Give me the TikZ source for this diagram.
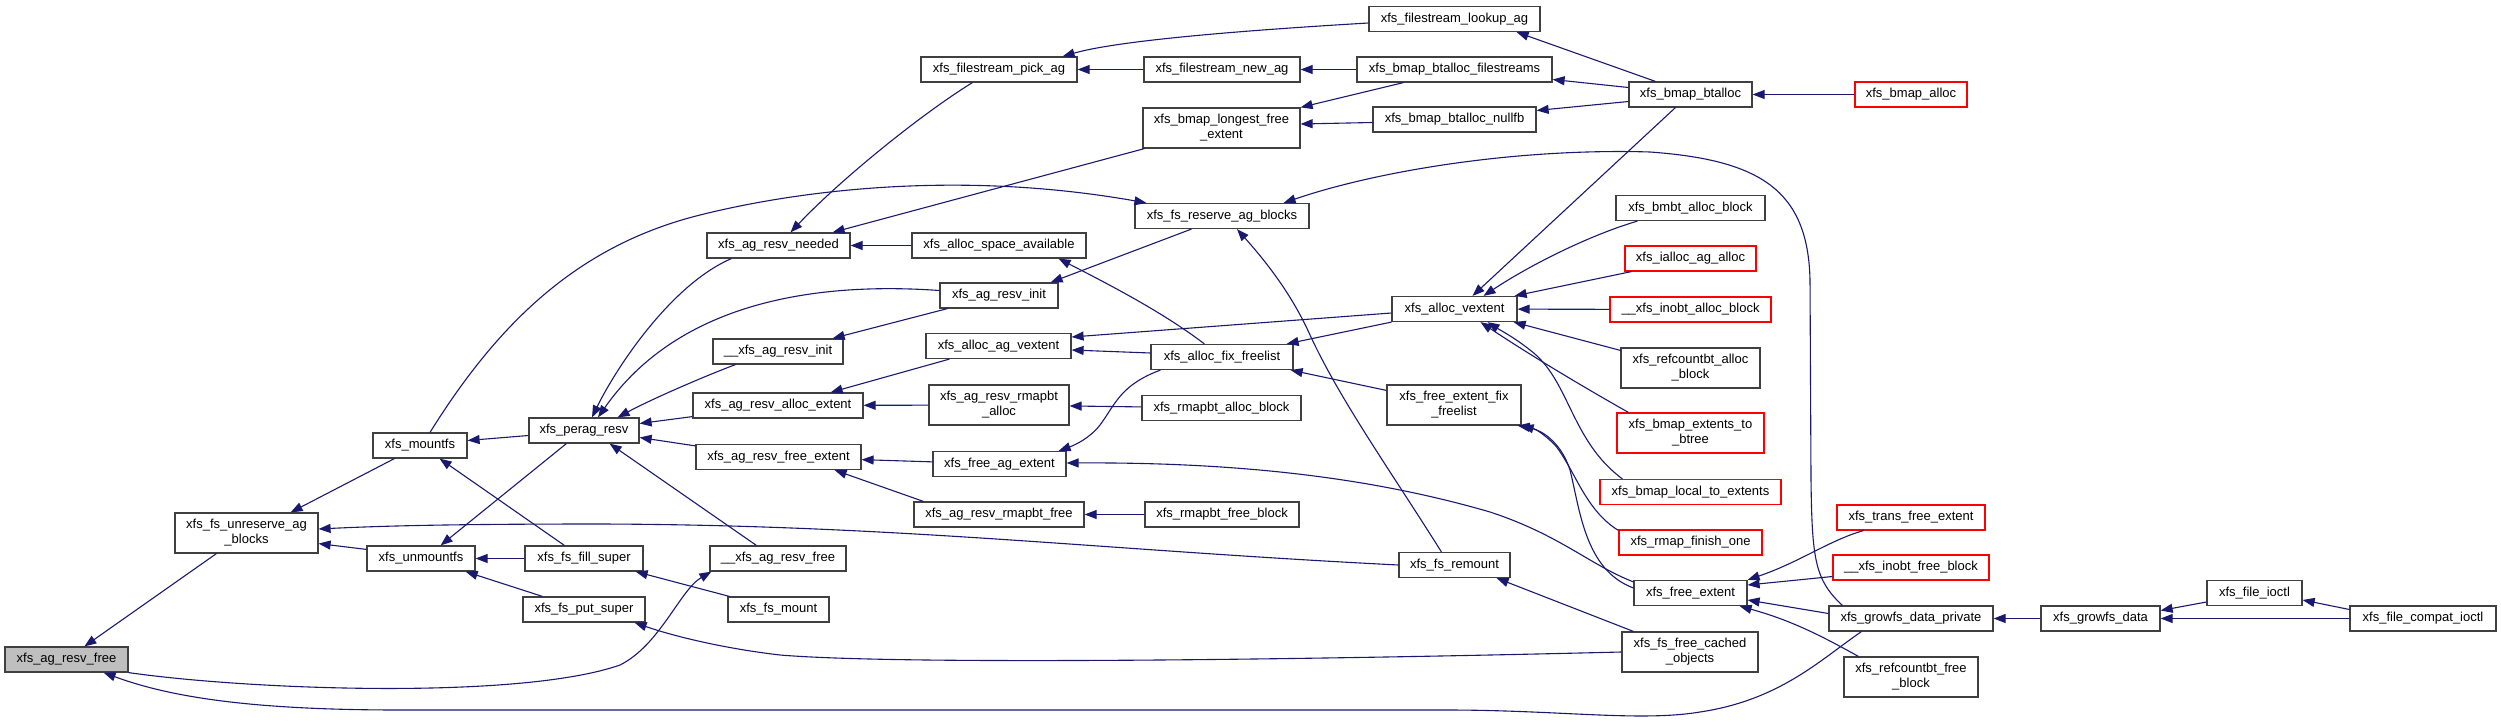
\documentclass[tikz,border=0pt]{standalone}
\usepackage{fontspec}
\setmainfont{Liberation Sans}
\usetikzlibrary{arrows.meta}
\definecolor{edgeblue}{HTML}{191970}
\definecolor{rootgray}{HTML}{BFBFBF}
\definecolor{boxline}{HTML}{404040}
\newcommand\nodefont{\fontsize{13bp}{15bp}\selectfont}
\tikzset{
  fn/.style={draw=boxline, line width=1.2bp, fill=white, inner sep=0pt, minimum height=25bp, align=center, font=\nodefont},
  fnred/.style={fn, draw=red},
  two/.style={minimum height=40bp},
  cedge/.style={draw=edgeblue, line width=1.1bp, -{Triangle[length=12bp,width=9bp]}},
}
\begin{document}
\begin{tikzpicture}[x=1bp,y=-1bp]
\useasboundingbox (0,0) rectangle (2501,724);
% nodes
\node[fn, fill=rootgray, minimum width=123bp] (nFree) at (66.5,659.5) {xfs\_ag\_resv\_free};
\node[fn, two, minimum width=143bp] (nUnres) at (246.5,533) {xfs\_fs\_unreserve\_ag\\\_blocks};
\node[fn, minimum width=94bp] (nMountfs) at (420,445.5) {xfs\_mountfs};
\node[fn, minimum width=108bp] (nUnmount) at (421,558.5) {xfs\_unmountfs};
\node[fn, minimum width=110bp] (nPerag) at (584,430.5) {xfs\_perag\_resv};
\node[fn, minimum width=118bp] (nFill) at (584,558.5) {xfs\_fs\_fill\_super};
\node[fn, minimum width=122bp] (nPut) at (584,609.5) {xfs\_fs\_put\_super};
\node[fn, minimum width=143bp] (nNeeded) at (778.5,245.5) {xfs\_ag\_resv\_needed};
\node[fn, minimum width=130bp] (nInitB) at (778,351.5) {\_\_xfs\_ag\_resv\_init};
\node[fn, minimum width=170bp] (nAllocExt) at (778,405.5) {xfs\_ag\_resv\_alloc\_extent};
\node[fn, minimum width=165bp] (nFreeExt) at (778.5,457) {xfs\_ag\_resv\_free\_extent};
\node[fn, minimum width=136bp] (nFreeB) at (778,558.5) {\_\_xfs\_ag\_resv\_free};
\node[fn, minimum width=101bp] (nFsMount) at (778.5,609.5) {xfs\_fs\_mount};
\node[fn, minimum width=156bp] (nPick) at (999,69.5) {xfs\_filestream\_pick\_ag};
\node[fn, minimum width=174bp] (nSpace) at (999,245.5) {xfs\_alloc\_space\_available};
\node[fn, minimum width=118bp] (nInit) at (999,295.5) {xfs\_ag\_resv\_init};
\node[fn, minimum width=145bp] (nAgVext) at (998.5,346) {xfs\_alloc\_ag\_vextent};
\node[fn, two, minimum width=140bp] (nRmapAlloc) at (999,405) {xfs\_ag\_resv\_rmapbt\\\_alloc};
\node[fn, minimum width=133bp] (nFreeAg) at (999.5,464) {xfs\_free\_ag\_extent};
\node[fn, minimum width=170bp] (nRmapFree) at (999,514.5) {xfs\_ag\_resv\_rmapbt\_free};
\node[fn, minimum width=156bp] (nNewAg) at (1222,69.5) {xfs\_filestream\_new\_ag};
\node[fn, two, minimum width=157bp] (nLongest) at (1221.5,128) {xfs\_bmap\_longest\_free\\\_extent};
\node[fn, minimum width=174bp] (nReserve) at (1222,216) {xfs\_fs\_reserve\_ag\_blocks};
\node[fn, minimum width=142bp] (nFix) at (1222,357) {xfs\_alloc\_fix\_freelist};
\node[fn, minimum width=159bp] (nRmapAllocBlk) at (1221.5,408) {xfs\_rmapbt\_alloc\_block};
\node[fn, minimum width=154bp] (nRmapFreeBlk) at (1222,514.5) {xfs\_rmapbt\_free\_block};
\node[fn, minimum width=171bp] (nLookup) at (1454.5,19) {xfs\_filestream\_lookup\_ag};
\node[fn, minimum width=195bp] (nBtFs) at (1454.5,69.5) {xfs\_bmap\_btalloc\_filestreams};
\node[fn, minimum width=163bp] (nNullfb) at (1454.5,119.5) {xfs\_bmap\_btalloc\_nullfb};
\node[fn, minimum width=125bp] (nVextent) at (1454.5,309) {xfs\_alloc\_vextent};
\node[fn, two, minimum width=134bp] (nFeFix) at (1454,405) {xfs\_free\_extent\_fix\\\_freelist};
\node[fn, minimum width=111bp] (nRemount) at (1454.5,565) {xfs\_fs\_remount};
\node[fn, minimum width=123bp] (nBtalloc) at (1690.5,94.5) {xfs\_bmap\_btalloc};
\node[fn, minimum width=149bp] (nBmbt) at (1690.5,208) {xfs\_bmbt\_alloc\_block};
\node[fnred, minimum width=131bp] (nIalloc) at (1690.5,258.5) {xfs\_ialloc\_ag\_alloc};
\node[fnred, minimum width=161bp] (nInobtAlloc) at (1690.5,309.5) {\_\_xfs\_inobt\_alloc\_block};
\node[fn, two, minimum width=139bp] (nRefAlloc) at (1690.5,368) {xfs\_refcountbt\_alloc\\\_block};
\node[fnred, two, minimum width=147bp] (nExt2Bt) at (1690.5,433) {xfs\_bmap\_extents\_to\\\_btree};
\node[fnred, minimum width=181bp] (nLocal) at (1690.5,492) {xfs\_bmap\_local\_to\_extents};
\node[fnred, minimum width=143bp] (nRmapFin) at (1690.5,542.5) {xfs\_rmap\_finish\_one};
\node[fn, minimum width=113bp] (nFreeExtent) at (1690.5,593) {xfs\_free\_extent};
\node[fn, two, minimum width=136bp] (nCached) at (1690,652) {xfs\_fs\_free\_cached\\\_objects};
\node[fnred, minimum width=112bp] (nBmapAlloc) at (1911,94.5) {xfs\_bmap\_alloc};
\node[fnred, minimum width=148bp] (nTrans) at (1911,517.5) {xfs\_trans\_free\_extent};
\node[fnred, minimum width=156bp] (nInobtFree) at (1911,567.5) {\_\_xfs\_inobt\_free\_block};
\node[fn, minimum width=164bp] (nGrowPriv) at (1911,618.5) {xfs\_growfs\_data\_private};
\node[fn, two, minimum width=134bp] (nRefFree) at (1911,677) {xfs\_refcountbt\_free\\\_block};
\node[fn, minimum width=119bp] (nGrowfs) at (2100.5,618.5) {xfs\_growfs\_data};
\node[fn, minimum width=95bp] (nIoctl) at (2254.5,593) {xfs\_file\_ioctl};
\node[fn, minimum width=146bp] (nCompat) at (2423,618.5) {xfs\_file\_compat\_ioctl};
% edges
\draw[cedge] ([xshift=42bp]nUnres.south west) -- ([xshift=80bp]nFree.north west);
\draw[cedge] (nFree.south east) .. controls (250,690) and (520,700) .. (620,665) .. controls (660,645) and (680,590) .. ([xshift=2bp]nFreeB.south west);
\draw[cedge] ([xshift=33bp]nGrowPriv.south west) .. controls (1820,660) and (1780,700) .. (1700,712) .. controls (1640,722) and (1560,710) .. (1446,710) -- (400,710) .. controls (250,710) and (170,697) .. ([xshift=-25bp]nFree.south east);
\draw[cedge] ([xshift=22bp]nMountfs.south west) -- ([xshift=-28bp]nUnres.north east);
\draw[cedge] ([yshift=-4bp]nUnmount.north west) -- ([yshift=10bp]nUnres.south east);
\draw[cedge] (nRemount.west) .. controls (1100,550) and (900,525) .. (600,524) .. controls (450,524) and (380,526) .. ([yshift=4bp]nUnres.east);
\draw[cedge] ([yshift=-5bp]nPerag.west) -- ([yshift=5bp]nMountfs.east);
\draw[cedge] ([xshift=40bp]nFill.north west) -- ([xshift=-28bp]nMountfs.south east);
\draw[cedge] ([xshift=10bp]nMountfs.north) .. controls (500,320) and (580,245) .. (700,215) .. controls (800,190) and (960,170) .. ([xshift=12bp]nReserve.north west);
\draw[cedge] ([xshift=38bp]nPerag.south west) -- ([xshift=-35bp]nUnmount.north east);
\draw[cedge] (nFill) -- (nUnmount);
\draw[cedge] ([xshift=20bp]nPut.north west) -- ([xshift=-10bp]nUnmount.south east);
\draw[cedge] ([xshift=2bp]nFsMount.north west) -- ([xshift=-8bp]nFill.south east);
\draw[cedge] (nCached.west) .. controls (1300,660) and (900,665) .. (780,655) .. controls (720,648) and (670,635) .. ([xshift=-11bp]nPut.south east);
\draw[cedge] ([xshift=25bp]nNeeded.south west) .. controls (670,285) and (615,370) .. ([xshift=8bp]nPerag.north);
\draw[cedge] ([yshift=5bp]nInit.west) .. controls (820,282) and (680,300) .. ([xshift=14bp]nPerag.north);
\draw[cedge] ([xshift=23bp]nInitB.south west) .. controls (700,378) and (650,400) .. ([xshift=-22bp]nPerag.north east);
\draw[cedge] ([yshift=2bp]nAllocExt.south west) -- ([yshift=7bp]nPerag.east);
\draw[cedge] ([yshift=-2bp]nFreeExt.north west) -- ([yshift=-7bp]nPerag.east);
\draw[cedge] ([xshift=47bp]nFreeB.north west) -- ([xshift=-30bp]nPerag.south east);
\draw[cedge] ([xshift=52bp]nPick.south west) .. controls (920,115) and (840,180) .. ([xshift=12bp]nNeeded.north);
\draw[cedge] ([xshift=2bp]nLongest.south west) -- ([xshift=-18bp]nNeeded.north east);
\draw[cedge] (nSpace) -- (nNeeded);
\draw[cedge] ([xshift=57bp]nReserve.south west) -- ([xshift=-8bp]nInit.north east);
\draw[cedge] ([xshift=8bp]nInit.south west) -- ([xshift=-11bp]nInitB.north east);
\draw[cedge] ([xshift=24bp]nAgVext.south west) -- ([xshift=-33bp]nAllocExt.north east);
\draw[cedge] (nRmapAlloc) -- (nAllocExt);
\draw[cedge] (nFreeAg) -- (nFreeExt);
\draw[cedge] ([xshift=10bp]nRmapFree.north west) -- ([xshift=-27bp]nFreeExt.south east);
\draw[cedge] ([yshift=-4bp]nLookup.west) .. controls (1250,30) and (1120,40) .. ([xshift=-15bp]nPick.north east);
\draw[cedge] (nNewAg) -- (nPick);
\draw[cedge] (nBtFs) -- (nNewAg);
\draw[cedge] ([xshift=47bp]nBtFs.south west) -- (nLongest.north east);
\draw[cedge] ([yshift=-3bp]nNullfb.west) -- ([yshift=4bp]nLongest.east);
\draw[cedge] ([xshift=54bp]nFix.north west) .. controls (1160,310) and (1100,280) .. ([xshift=-28bp]nSpace.south east);
\draw[cedge] ([yshift=-4bp]nVextent.west) -- ([yshift=9bp]nAgVext.east);
\draw[cedge] ([yshift=4bp]nFix.west) -- ([yshift=-4bp]nAgVext.east);
\draw[cedge] ([xshift=10bp]nFix.south west) .. controls (1120,385) and (1115,405) .. (1100,425) .. controls (1090,438) and (1075,445) .. ([xshift=-8bp]nFreeAg.north east);
\draw[cedge] (nRmapAllocBlk) -- (nRmapAlloc);
\draw[cedge] (nRmapFreeBlk) -- (nRmapFree);
\draw[cedge] ([yshift=-2bp]nFreeExtent.north west) .. controls (1590,565) and (1560,535) .. (1490,512) .. controls (1380,480) and (1250,462) .. ([yshift=1bp]nFreeAg.east);
\draw[cedge] (nVextent.south west) -- ([xshift=-7bp]nFix.north east);
\draw[cedge] ([yshift=-6bp]nFeFix.north west) -- ([xshift=-3bp]nFix.south east);
\draw[cedge] ([xshift=43bp]nRemount.north west) .. controls (1390,470) and (1340,400) .. (1310,335) .. controls (1290,290) and (1260,255) .. ([xshift=15bp]nReserve.south);
\draw[cedge] ([xshift=14bp]nGrowPriv.north west) .. controls (1815,580) and (1812,560) .. (1811,480) -- (1810,280) .. controls (1808,190) and (1760,160) .. (1650,152) .. controls (1520,148) and (1380,170) .. ([xshift=-26bp]nReserve.north east);
\draw[cedge] ([xshift=27bp]nBtalloc.north west) -- ([xshift=-24bp]nLookup.south east);
\draw[cedge] ([yshift=7bp]nBtalloc.west) -- ([yshift=-10bp]nBtFs.east);
\draw[cedge] ([yshift=-7bp]nBtalloc.west) -- ([yshift=9bp]nNullfb.east);
\draw[cedge] ([xshift=47bp]nBtalloc.south west) -- ([xshift=18bp]nVextent.north);
\draw[cedge] ([xshift=22bp]nBmbt.south west) .. controls (1590,235) and (1530,265) .. ([xshift=29bp]nVextent.north);
\draw[cedge] ([xshift=7bp]nIalloc.south west) -- ([xshift=-3bp]nVextent.north east);
\draw[cedge] (nInobtAlloc) -- (nVextent);
\draw[cedge] ([yshift=-3bp]nRefAlloc.north west) -- ([xshift=-4bp]nVextent.south east);
\draw[cedge] ([xshift=12bp]nExt2Bt.north west) .. controls (1580,385) and (1530,355) .. ([xshift=26bp]nVextent.south);
\draw[cedge] ([xshift=23bp]nLocal.north west) .. controls (1570,440) and (1570,380) .. (1530,350) .. controls (1515,338) and (1500,330) .. ([xshift=33bp]nVextent.south);
\draw[cedge] ([yshift=-1bp]nRmapFin.north west) .. controls (1585,510) and (1575,470) .. (1555,445) .. controls (1545,435) and (1535,428) .. ([xshift=-4bp]nFeFix.south east);
\draw[cedge] ([yshift=5bp]nFreeExtent.west) .. controls (1585,570) and (1580,510) .. (1570,470) .. controls (1562,445) and (1545,432) .. (nFeFix.south east);
\draw[cedge] ([xshift=12bp]nCached.north west) -- ([xshift=-14bp]nRemount.south east);
\draw[cedge] ([xshift=27bp]nTrans.south west) .. controls (1830,540) and (1800,562) .. (nFreeExtent.north east);
\draw[cedge] ([yshift=-9bp]nInobtFree.west) -- ([yshift=8bp]nFreeExtent.east);
\draw[cedge] ([yshift=5bp]nGrowPriv.west) -- ([yshift=-7bp]nFreeExtent.east);
\draw[cedge] ([xshift=15bp]nRefFree.north west) .. controls (1820,635) and (1790,620) .. ([xshift=-8bp]nFreeExtent.south east);
\draw[cedge] (nGrowfs) -- (nGrowPriv);
\draw[cedge] ([yshift=-9bp]nIoctl.west) -- ([yshift=8bp]nGrowfs.east);
\draw[cedge] (nCompat) -- (nGrowfs);
\draw[cedge] ([yshift=9bp]nCompat.west) -- ([yshift=-7bp]nIoctl.east);
\draw[cedge] (nBmapAlloc) -- (nBtalloc);
\end{tikzpicture}
\end{document}
